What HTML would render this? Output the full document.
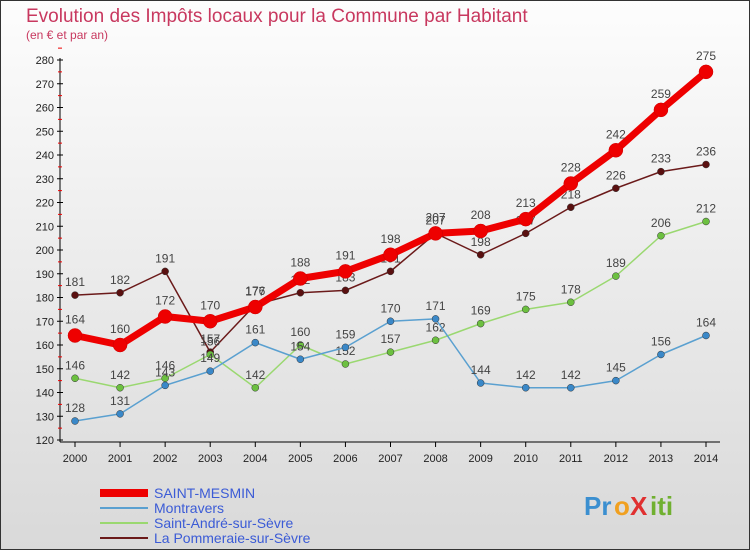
<!DOCTYPE html>
<html><head><meta charset="utf-8"><style>
html,body{margin:0;padding:0}
body{width:750px;height:550px;overflow:hidden;font-family:"Liberation Sans",sans-serif}
</style></head><body>
<svg id="chart" width="750" height="550" xmlns="http://www.w3.org/2000/svg">
<defs><linearGradient id="bg" x1="0" y1="0" x2="0" y2="1"><stop offset="0" stop-color="#fdfdfd"/><stop offset="1" stop-color="#d9d9d9"/></linearGradient></defs>
<rect x="0.5" y="0.5" width="749" height="549" fill="url(#bg)" stroke="#333"/>
<text x="26" y="22" font-size="19" fill="#c8385f">Evolution des Impôts locaux pour la Commune par Habitant</text>
<text x="26" y="39" font-size="12" fill="#c8385f">(en € et par an)</text>
<g id="axes"></g><g id="series"></g><g id="legend"></g>
<g font-size="26" font-weight="bold">
<text x="584" y="515" fill="#3b8fd0">Pr</text><text x="614" y="515" fill="#f0a020">o</text><text x="630" y="515" fill="#e03030">X</text><text x="650" y="515" fill="#70b030">iti</text>
</g>
</svg>
<script>
const years=[2000,2001,2002,2003,2004,2005,2006,2007,2008,2009,2010,2011,2012,2013,2014];
const yTicks=[120,130,140,150,160,170,180,190,200,210,220,230,240,250,260,270,280];
const saintMesmin=[164,160,172,170,176,188,191,198,207,208,213,228,242,259,275];
const montravers=[128,131,143,149,161,154,159,170,171,144,142,142,145,156,164];
const saintAndre=[146,142,146,156,142,160,152,157,162,169,175,178,189,206,212];
const pommeraie=[181,182,191,157,177,182,183,191,207,198,207,218,226,233,236];
const names=["SAINT-MESMIN","Montravers","Saint-André-sur-Sèvre","La Pommeraie-sur-Sèvre"];
const NS="http://www.w3.org/2000/svg";
const X=i=>75+i*(706-75)/(years.length-1);
const Y=v=>440-(v-120)*(380/160);
function mk(tag,attrs,parent,text){const e=document.createElementNS(NS,tag);for(const k in attrs)e.setAttribute(k,attrs[k]);if(text!==undefined)e.textContent=text;parent.appendChild(e);return e;}
const ax=document.getElementById('axes');
let yl=mk('line',{x1:60,y1:58,x2:60,y2:442,stroke:'#000'},ax);


let xl=mk('line',{x1:60,y1:442,x2:720,y2:442,stroke:'#000'},ax);


yTicks.forEach(t=>{
  mk('line',{x1:57,y1:Y(t),x2:63,y2:Y(t),stroke:'#000'},ax);
  mk('line',{x1:58,y1:Y(t+5),x2:62,y2:Y(t+5),stroke:'#e00'},ax);
  const tx=mk('text',{x:54,y:Y(t)+4,'font-size':11,'text-anchor':'end',fill:'#222'},ax,t);
  
  
});
years.forEach((y,i)=>{
  mk('line',{x1:X(i),y1:442,x2:X(i),y2:447,stroke:'#000'},ax);
  const tx=mk('text',{x:X(i),y:462,'font-size':11,'text-anchor':'middle',fill:'#222'},ax,y);
  
  
});
const sg=document.getElementById('series');
const defs=[[pommeraie,'#6b1a1a','#5a1010',1.5,3.5],[saintAndre,'#9ad870','#6cc040',1.5,3.5],[montravers,'#5aa0d0','#3a88c8',1.5,3.5],[saintMesmin,'#ee0000','#ee0000',7,7]];
const snames=['pommeraie-line','saint-andre-line','montravers-line','saint-mesmin-line'];
defs.forEach((d,k)=>{
  const g=mk('g',{},sg);
  
  
  mk('polyline',{points:d[0].map((v,i)=>X(i)+','+Y(v)).join(' '),fill:'none',stroke:d[1],'stroke-width':d[3],'stroke-linejoin':'round'},g);
  d[0].forEach((v,i)=>{
    const c=mk('circle',{cx:X(i),cy:Y(v),r:d[4],fill:d[2],stroke:k==3?'#c00':'#333','stroke-width':0.5},g);
    
    
    const t=mk('text',{x:X(i),y:Y(v)-9-(k==3?3:0),'font-size':12,'text-anchor':'middle',fill:'#444'},g,v);
    
    
  });
});
const lg=document.getElementById('legend');
const lc=['#ee0000','#5aa0d0','#9ad870','#6b1a1a'];const lw=[8,2,2,2];
names.forEach((n,i)=>{
  const y=493+i*15;
  const g=mk('g',{},lg);
  
  
  mk('line',{x1:100,y1:y,x2:148,y2:y,stroke:lc[i],'stroke-width':lw[i]},g);
  mk('text',{x:154,y:y+5,'font-size':14,fill:'#3b5bd6'},g,n);
});
</script>
</body></html>
